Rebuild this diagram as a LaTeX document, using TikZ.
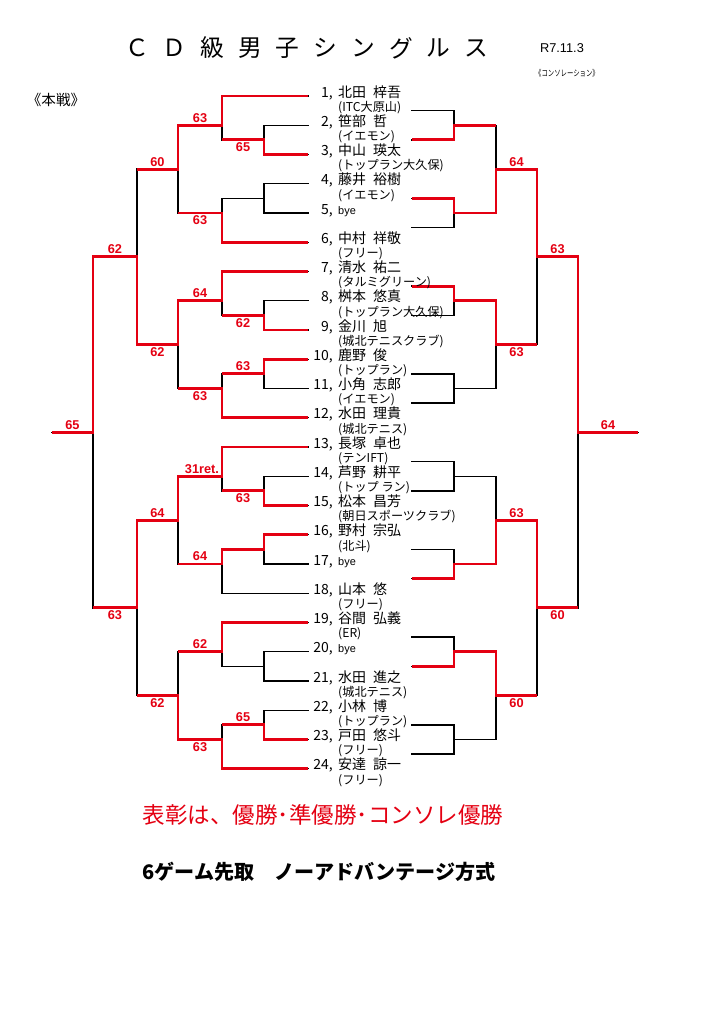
\documentclass[tikz,border=0pt]{standalone}
\usepackage{fontspec}
\setmainfont{Noto Sans CJK JP}
\newfontfamily\scorefont{Liberation Sans}
\definecolor{winred}{RGB}{228,0,18}
\begin{document}
\begin{tikzpicture}[x=0.822pt,y=-0.822pt,
        lose/.style={line width=1.2pt,line cap=rect},
        win/.style={winred,line width=2.4pt,line join=miter},
        score/.style={text=winred,inner sep=2.2pt,font=\scorefont\bfseries\fontsize{10.5}{10.5}\selectfont},
        num/.style={anchor=base east,inner sep=0pt,font=\fontsize{11.5}{11.5}\selectfont},
        pname/.style={anchor=base west,inner sep=0pt,font=\fontsize{11.5}{11.5}\selectfont},
        club/.style={anchor=base west,inner sep=0pt,font=\fontsize{10}{10}\selectfont}]
            \useasboundingbox (0,0) rectangle (724,1024);
            \foreach \ch [count=\k from 0] in {Ｃ,Ｄ,級,男,子,シ,ン,グ,ル,ス}
                \node[font=\fontsize{19.5}{19.5}\selectfont] (t\k) at (137+37.7*\k,48) {\ch};
            \node[font=\scorefont\fontsize{10.5}{10.5}\selectfont] (date) at (562,48) {R7.11.3};
            \node[font=\fontsize{7}{7}\selectfont,xscale=0.75] (conso) at (567,73) {《コンソレーション》};
            \node[font=\fontsize{12}{12}\selectfont] (honsen) at (56,100) {《本戦》};
            \begin{scope}[shift={(0,96)},y=-6.011pt]
                \foreach \q in {0,24,48,72} {
                    \draw[lose] (308,\q) -- (222,\q) (308,\q+20) -- (222,\q+20);
                    \foreach \k in {4,8,12,16} \draw[lose] (308,\q+\k) -- (264,\q+\k);
                    \draw[lose] (264,\q+4) -- (264,\q+8) (264,\q+6) -- (222,\q+6)
                        (264,\q+12) -- (264,\q+16) (264,\q+14) -- (222,\q+14)
                        (222,\q) -- (222,\q+6) (222,\q+4) -- (178,\q+4)
                        (222,\q+14) -- (222,\q+20) (222,\q+16) -- (178,\q+16)
                        (178,\q+4) -- (178,\q+16) (178,\q+10) -- (137,\q+10);
                    \foreach \k in {2,6,14,18} \draw[lose] (412,\q+\k) -- (454,\q+\k);
                    \draw[lose] (454,\q+2) -- (454,\q+6) (454,\q+4) -- (496,\q+4)
                        (454,\q+14) -- (454,\q+18) (454,\q+16) -- (496,\q+16)
                        (496,\q+4) -- (496,\q+16) (496,\q+10) -- (537,\q+10);
                }
                \draw[lose] (137,10) -- (137,34) (137,22) -- (93,22) (137,58) -- (137,82) (137,70) -- (93,70)
                    (93,22) -- (93,70) (93,46) -- (52,46);
                \draw[lose] (537,10) -- (537,34) (537,22) -- (578,22) (537,58) -- (537,82) (537,70) -- (578,70)
                    (578,22) -- (578,70) (578,46) -- (638,46);
                \draw[win] (308,8) -- (264,8) -- (264,6) -- (222,6);
                \draw[win] (308,0) -- (222,0) -- (222,4) -- (178,4) -- (178,10) -- (137,10);
                \draw[win] (308,20) -- (222,20) -- (222,16) -- (178,16);
                \draw[win] (308,32) -- (264,32) -- (264,30) -- (222,30);
                \draw[win] (308,24) -- (222,24) -- (222,28) -- (178,28) -- (178,34) -- (137,34) -- (137,22) -- (93,22) -- (93,46) -- (52,46);
                \draw[win] (308,36) -- (264,36) -- (264,38) -- (222,38);
                \draw[win] (308,44) -- (222,44) -- (222,40) -- (178,40);
                \draw[win] (308,56) -- (264,56) -- (264,54) -- (222,54);
                \draw[win] (308,48) -- (222,48) -- (222,52) -- (178,52) -- (178,58) -- (137,58) -- (137,70) -- (93,70);
                \draw[win] (308,60) -- (264,60) -- (264,62) -- (222,62) -- (222,64) -- (178,64);
                \draw[win] (308,72) -- (222,72) -- (222,76) -- (178,76);
                \draw[win] (308,88) -- (264,88) -- (264,86) -- (222,86);
                \draw[win] (308,92) -- (222,92) -- (222,88) -- (178,88) -- (178,82) -- (137,82);
                \draw[win] (412,6) -- (454,6) -- (454,4) -- (496,4);
                \draw[win] (412,14) -- (454,14) -- (454,16) -- (496,16) -- (496,10) -- (537,10) -- (537,22) -- (578,22) -- (578,46) -- (638,46);
                \draw[win] (412,26) -- (454,26) -- (454,28) -- (496,28) -- (496,34) -- (537,34);
                \draw[win] (412,66) -- (454,66) -- (454,64) -- (496,64) -- (496,58) -- (537,58) -- (537,70) -- (578,70);
                \draw[win] (412,78) -- (454,78) -- (454,76) -- (496,76) -- (496,82) -- (537,82);
                \foreach \x/\y/\s/\a [count=\k] in {243/6/65/north, 200/4/63/south, 200/16/63/north, 157.5/10/60/south,
                        243/30/62/north, 200/28/64/south, 243/38/63/south, 200/40/63/north, 157.5/34/62/north,
                        115/22/62/south, 72.5/46/65/south, 202/52/31ret./south, 243/54/63/north, 200/64/64/south,
                        157.5/58/64/south, 200/76/62/south, 243/86/65/south, 200/88/63/north, 157.5/82/62/north,
                        115/70/63/north, 516.5/10/64/south, 516.5/34/63/north, 557.5/22/63/south, 608/46/64/south,
                        516.5/58/63/south, 516.5/82/60/north, 557.5/70/60/north}
                    \node[score,anchor=\a] (s\k) at (\x,\y) {\s};
                \foreach \i/\nm/\club in {1/北田\enspace 梓吾/(ITC大原山), 2/笹部\enspace 哲/(イエモン),
                        3/中山\enspace 瑛太/(トップラン大久保), 4/藤井\enspace 裕樹/(イエモン),
                        6/中村\enspace 祥敬/(フリー), 7/清水\enspace 祐二/(タルミグリーン),
                        8/桝本\enspace 悠真/(トップラン大久保), 9/金川\enspace 旭/(城北テニスクラブ),
                        10/鹿野\enspace 俊/(トップラン), 11/小角\enspace 志郎/(イエモン),
                        12/水田\enspace 理貴/(城北テニス), 13/長塚\enspace 卓也/(テンIFT),
                        14/芦野\enspace 耕平/(トップ ラン), 15/松本\enspace 昌芳/(朝日スポーツクラブ),
                        16/野村\enspace 宗弘/(北斗), 18/山本\enspace 悠/(フリー),
                        19/谷間\enspace 弘義/(ER), 21/水田\enspace 進之/(城北テニス),
                        22/小林\enspace 博/(トップラン), 23/戸田\enspace 悠斗/(フリー),
                        24/安達\enspace 諒一/(フリー)} {
                    \node[num] (n\i) at (333,{4*(\i-1)+0.15}) {\i,};
                    \node[pname] (p\i) at (338,{4*(\i-1)+0.15}) {\nm};
                    \node[club] (c\i) at (338,{4*(\i-1)+2.1}) {\club};
                }
                \foreach \i in {5,17,20} {
                    \node[num] (n\i) at (333,{4*(\i-1)+0.15}) {\i,};
                    \node[pname,font=\scorefont\fontsize{9}{9}\selectfont] (p\i) at (338,{4*(\i-1)+0.15}) {bye};
                }
            \end{scope}
            \node[text=winred,font=\fontsize{18.5}{18.5}\selectfont] (award) at (323,815) {表彰は、優勝･準優勝･コンソレ優勝};
            \node[font=\bfseries\fontsize{16.5}{16.5}\selectfont] (rule) at (319,872) {6ゲーム先取　ノーアドバンテージ方式};
        \end{tikzpicture}
\end{document}
